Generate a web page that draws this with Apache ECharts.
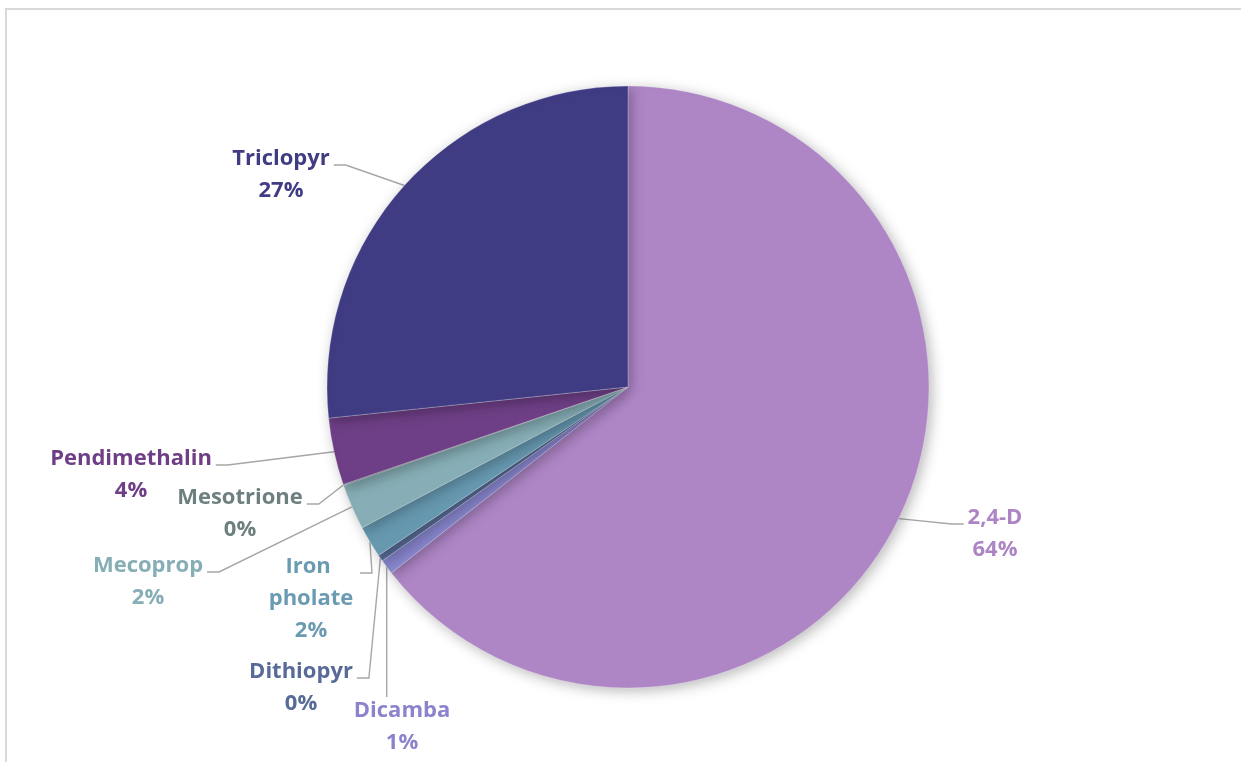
<!DOCTYPE html>
<html>
<head>
<meta charset="utf-8">
<script src="https://cdn.jsdelivr.net/npm/echarts@6/dist/echarts.min.js"></script>
<style>
html,body{margin:0;padding:0;background:#fff;}
#chart{width:1241px;height:762px;}
</style>
</head>
<body>
<div id="chart"></div>
<script>
// Data (share of total, %)
const categories = ['2,4-D', 'Dicamba', 'Dithiopyr', 'Iron pholate', 'Mecoprop', 'Mesotrione', 'Pendimethalin', 'Triclopyr'];
const values = [64.4, 0.8, 0.35, 1.7, 2.45, 0.05, 3.6, 26.65];

// Styles
const sliceColors = ['#AE86C6', '#8A88D0', '#576B96', '#6698B0', '#87AEB6', '#6F8080', '#6E3F86', '#403C84'];
const labelColors = ['#AD85C5', '#8B84CD', '#586A97', '#6A9BB3', '#86AEB5', '#6E7F7F', '#6E3F86', '#403C84'];
// label block centres and leader attachment side (layout only)
const labelPos = [[995, 534], [402, 727], [301, 688], [311, 599], [148, 582], [240, 514], [131, 475], [281, 175]];
const labelSide = ['left', 'top', 'right', 'right', 'right', 'right', 'right', 'right'];
const labelWidthOverride = {'Iron pholate': 90};

const chart = echarts.init(document.getElementById('chart'), null, {renderer: 'canvas'});

const data = categories.map((name, i) => {
  const item = {
    name: name,
    value: values[i],
    itemStyle: {color: sliceColors[i]},
    label: {color: labelColors[i]}
  };
  if (labelWidthOverride[name]) {
    item.label.width = labelWidthOverride[name];
    item.label.overflow = 'break';
  }
  return item;
});

const GAP = 4, SEG = 12, ATTACH_Y = 22;

chart.setOption({
  backgroundColor: '#ffffff',
  animation: false,
  graphic: [{
    type: 'rect',
    shape: {x: 6, y: 9, width: 1400, height: 900},
    style: {fill: null, stroke: '#D9D9D9', lineWidth: 2},
    silent: true,
    z: -10
  }],
  series: [{
    type: 'pie',
    center: [628, 387],
    radius: 301,
    startAngle: 90,
    clockwise: true,
    avoidLabelOverlap: false,
    minAngle: 0,
    itemStyle: {
      borderColor: 'rgba(255,255,255,0.5)',
      borderWidth: 0.5,
      shadowBlur: 14,
      shadowOffsetX: 3,
      shadowOffsetY: 3,
      shadowColor: 'rgba(0,0,0,0.28)'
    },
    label: {
      show: true,
      position: 'outside',
      fontFamily: '"Open Sans", Lato, sans-serif',
      fontWeight: 'bold',
      fontSize: 22,
      lineHeight: 32,
      align: 'center',
      formatter: p => p.name + '\n' + Math.round(p.percent) + '%'
    },
    labelLine: {
      show: true,
      length: 15,
      length2: 12,
      lineStyle: {color: '#A6A6A6', width: 1.4}
    },
    labelLayout: function (params) {
      const i = params.dataIndex;
      const pos = labelPos[i];
      const w = params.labelRect.width, h = params.labelRect.height;
      const left = pos[0] - w / 2, top = pos[1] - h / 2, right = pos[0] + w / 2;
      const out = {x: pos[0], y: pos[1], align: 'center', verticalAlign: 'middle'};
      const pts = params.labelLinePoints;
      if (pts && pts.length) {
        const a = pts[0];
        const side = labelSide[i];
        let line;
        if (side === 'right') {
          const y = top + ATTACH_Y;
          line = [[a[0], a[1]], [right + GAP + SEG, y], [right + GAP, y]];
        } else if (side === 'left') {
          const y = top + ATTACH_Y;
          line = [[a[0], a[1]], [left - GAP - SEG, y], [left - GAP, y]];
        } else {
          line = [[a[0], a[1]], [a[0], top + 2]];
        }
        out.labelLinePoints = line;
      }
      return out;
    },
    emphasis: {disabled: true},
    data: data
  }]
});
</script>
</body>
</html>
